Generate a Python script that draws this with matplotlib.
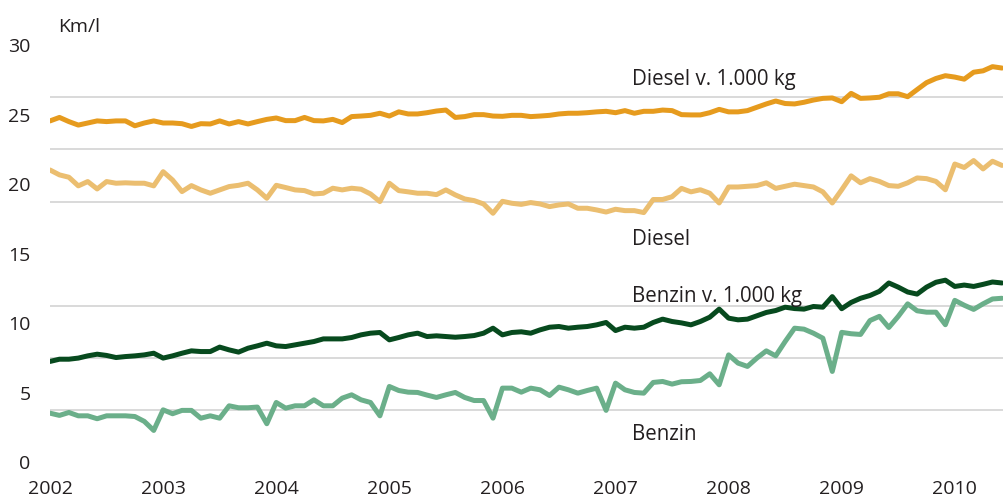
import numpy as np
import matplotlib
matplotlib.use("Agg")
import matplotlib.pyplot as plt
from matplotlib.ticker import MultipleLocator

plt.rcParams.update({"font.family": ["Open Sans", "DejaVu Sans"], "font.size": 14})

# monatliche Werte, Jan 2002 - Jun 2010 (km/l)
diesel_kg = [
    24.55, 24.8, 24.5, 24.25, 24.4, 24.55, 24.5, 24.55, 24.55, 24.2, 24.4, 24.55,
    24.4, 24.4, 24.35, 24.15, 24.35, 24.33, 24.55, 24.33, 24.5, 24.33, 24.5, 24.66,
    24.76, 24.57, 24.57, 24.8, 24.57, 24.55, 24.66, 24.43, 24.86, 24.9, 24.95, 25.1,
    24.9, 25.2, 25.05, 25.05, 25.14, 25.26, 25.33, 24.8, 24.86, 25.0, 25.0, 24.9,
    24.88, 24.95, 24.95, 24.86, 24.9, 24.95, 25.05, 25.1, 25.1, 25.14, 25.2, 25.24,
    25.14, 25.29, 25.1, 25.24, 25.24, 25.33, 25.29, 25.0, 24.98, 24.98, 25.14, 25.38,
    25.2, 25.2, 25.29, 25.53, 25.77, 25.98, 25.8, 25.77, 25.89, 26.05, 26.17, 26.2,
    25.93, 26.53, 26.17, 26.2, 26.25, 26.5, 26.5, 26.29, 26.8, 27.3, 27.6, 27.8,
    27.7, 27.55, 28.05, 28.15, 28.45, 28.35,
]
diesel = [
    21.02, 20.67, 20.5, 19.88, 20.19, 19.66, 20.19, 20.07, 20.1, 20.07, 20.07, 19.88,
    20.9, 20.3, 19.47, 19.9, 19.59, 19.35, 19.59, 19.83, 19.92, 20.07, 19.59, 18.99,
    19.92, 19.76, 19.59, 19.54, 19.3, 19.35, 19.71, 19.59, 19.71, 19.64, 19.3, 18.75,
    20.07, 19.54, 19.45, 19.35, 19.35, 19.25, 19.59, 19.23, 18.94, 18.82, 18.58, 17.91,
    18.77, 18.63, 18.55, 18.68, 18.58, 18.39, 18.51, 18.58, 18.27, 18.27, 18.15, 18.0,
    18.2, 18.1, 18.1, 17.96, 18.9, 18.9, 19.1, 19.7, 19.45, 19.6, 19.35, 18.65,
    19.8, 19.8, 19.85, 19.9, 20.1, 19.7, 19.85, 20.0, 19.9, 19.8, 19.45, 18.65,
    19.6, 20.6, 20.1, 20.4, 20.2, 19.9, 19.85, 20.1, 20.45, 20.4, 20.2, 19.6,
    21.45, 21.2, 21.7, 21.1, 21.65, 21.35,
]
benzin_kg = [
    7.26, 7.42, 7.42, 7.5, 7.66, 7.78, 7.69, 7.54, 7.61, 7.66, 7.73, 7.85,
    7.5, 7.66, 7.85, 8.02, 7.97, 7.97, 8.29, 8.09, 7.93, 8.21, 8.38, 8.57,
    8.38, 8.33, 8.45, 8.57, 8.69, 8.88, 8.88, 8.88, 8.98, 9.17, 9.29, 9.34,
    8.81, 8.98, 9.17, 9.29, 9.05, 9.1, 9.05, 9.0, 9.05, 9.12, 9.29, 9.65,
    9.17, 9.34, 9.39, 9.29, 9.53, 9.72, 9.77, 9.65, 9.72, 9.77, 9.89, 10.06,
    9.48, 9.72, 9.65, 9.72, 10.06, 10.3, 10.13, 10.03, 9.89, 10.13, 10.44, 11.02,
    10.37, 10.25, 10.3, 10.54, 10.78, 10.92, 11.16, 11.06, 11.02, 11.21, 11.16, 11.92,
    11.05, 11.5, 11.8, 12.0, 12.3, 12.9, 12.6, 12.25, 12.1, 12.6, 12.95, 13.1,
    12.65, 12.75, 12.65, 12.8, 12.97, 12.9,
]
benzin = [
    3.54, 3.38, 3.59, 3.35, 3.35, 3.14, 3.35, 3.35, 3.35, 3.3, 2.95, 2.3,
    3.78, 3.5, 3.74, 3.74, 3.18, 3.35, 3.18, 4.07, 3.93, 3.93, 3.98, 2.78,
    4.31, 3.9, 4.07, 4.07, 4.5, 4.07, 4.07, 4.62, 4.86, 4.5, 4.31, 3.35,
    5.46, 5.17, 5.05, 5.03, 4.84, 4.67, 4.86, 5.03, 4.67, 4.45, 4.45, 3.18,
    5.34, 5.34, 5.05, 5.34, 5.22, 4.81, 5.41, 5.22, 4.98, 5.17, 5.34, 3.74,
    5.7, 5.22, 5.03, 4.98, 5.75, 5.82, 5.63, 5.8, 5.82, 5.89, 6.37, 5.58,
    7.73, 7.14, 6.9, 7.5, 8.02, 7.66, 8.69, 9.65, 9.58, 9.29, 8.93, 6.54,
    9.35, 9.25, 9.2, 10.2, 10.5, 9.7, 10.5, 11.4, 10.9, 10.8, 10.8, 9.9,
    11.65, 11.3, 11.0, 11.4, 11.75, 11.8,
]
years = [2002, 2003, 2004, 2005, 2006, 2007, 2008, 2009, 2010]
yticks = [0, 5, 10, 15, 20, 25, 30]

SERIES = [
    ("Diesel v. 1.000 kg", diesel_kg, "#E69B1E", 27.12),
    ("Diesel", diesel, "#EBBE70", 15.61),
    ("Benzin v. 1.000 kg", benzin_kg, "#074A1E", 11.51),
    ("Benzin", benzin, "#6BAF8A", 1.58),
]
TXT = "#231F20"

t = 2002 + np.arange(len(diesel)) / 12

fig = plt.figure(figsize=(10.07, 5.01), dpi=100)
ax = fig.add_axes([0.0497, 0.077, 0.9463, 0.833])

for name, vals, col, ylab in SERIES:
    ax.plot(t, vals, color=col, lw=3.6, solid_joinstyle="round", solid_capstyle="round", zorder=3)
    ax.text(2007.145, ylab, name, color=TXT, va="baseline", ha="left", fontsize=14.8)

ax.set_xlim(2002, 2010.426)
ax.set_ylim(0, 30)
ax.set_xticks(years)
ax.set_yticks(yticks)
ax.yaxis.set_minor_locator(MultipleLocator(3.75))
ax.grid(axis="y", which="minor", color="#D9D9D9", lw=1.4)
ax.grid(False, which="major")
ax.set_axisbelow(True)
ax.tick_params(which="both", length=0, colors=TXT, labelsize=14)
ax.tick_params(axis="y", pad=14)
ax.tick_params(axis="x", pad=13)
for s in ax.spines.values():
    s.set_visible(False)

ax.text(2002.07, 30.94, "Km/l", color=TXT, va="baseline", ha="left", fontsize=14, clip_on=False)

fig.savefig("out.png", dpi=100)
